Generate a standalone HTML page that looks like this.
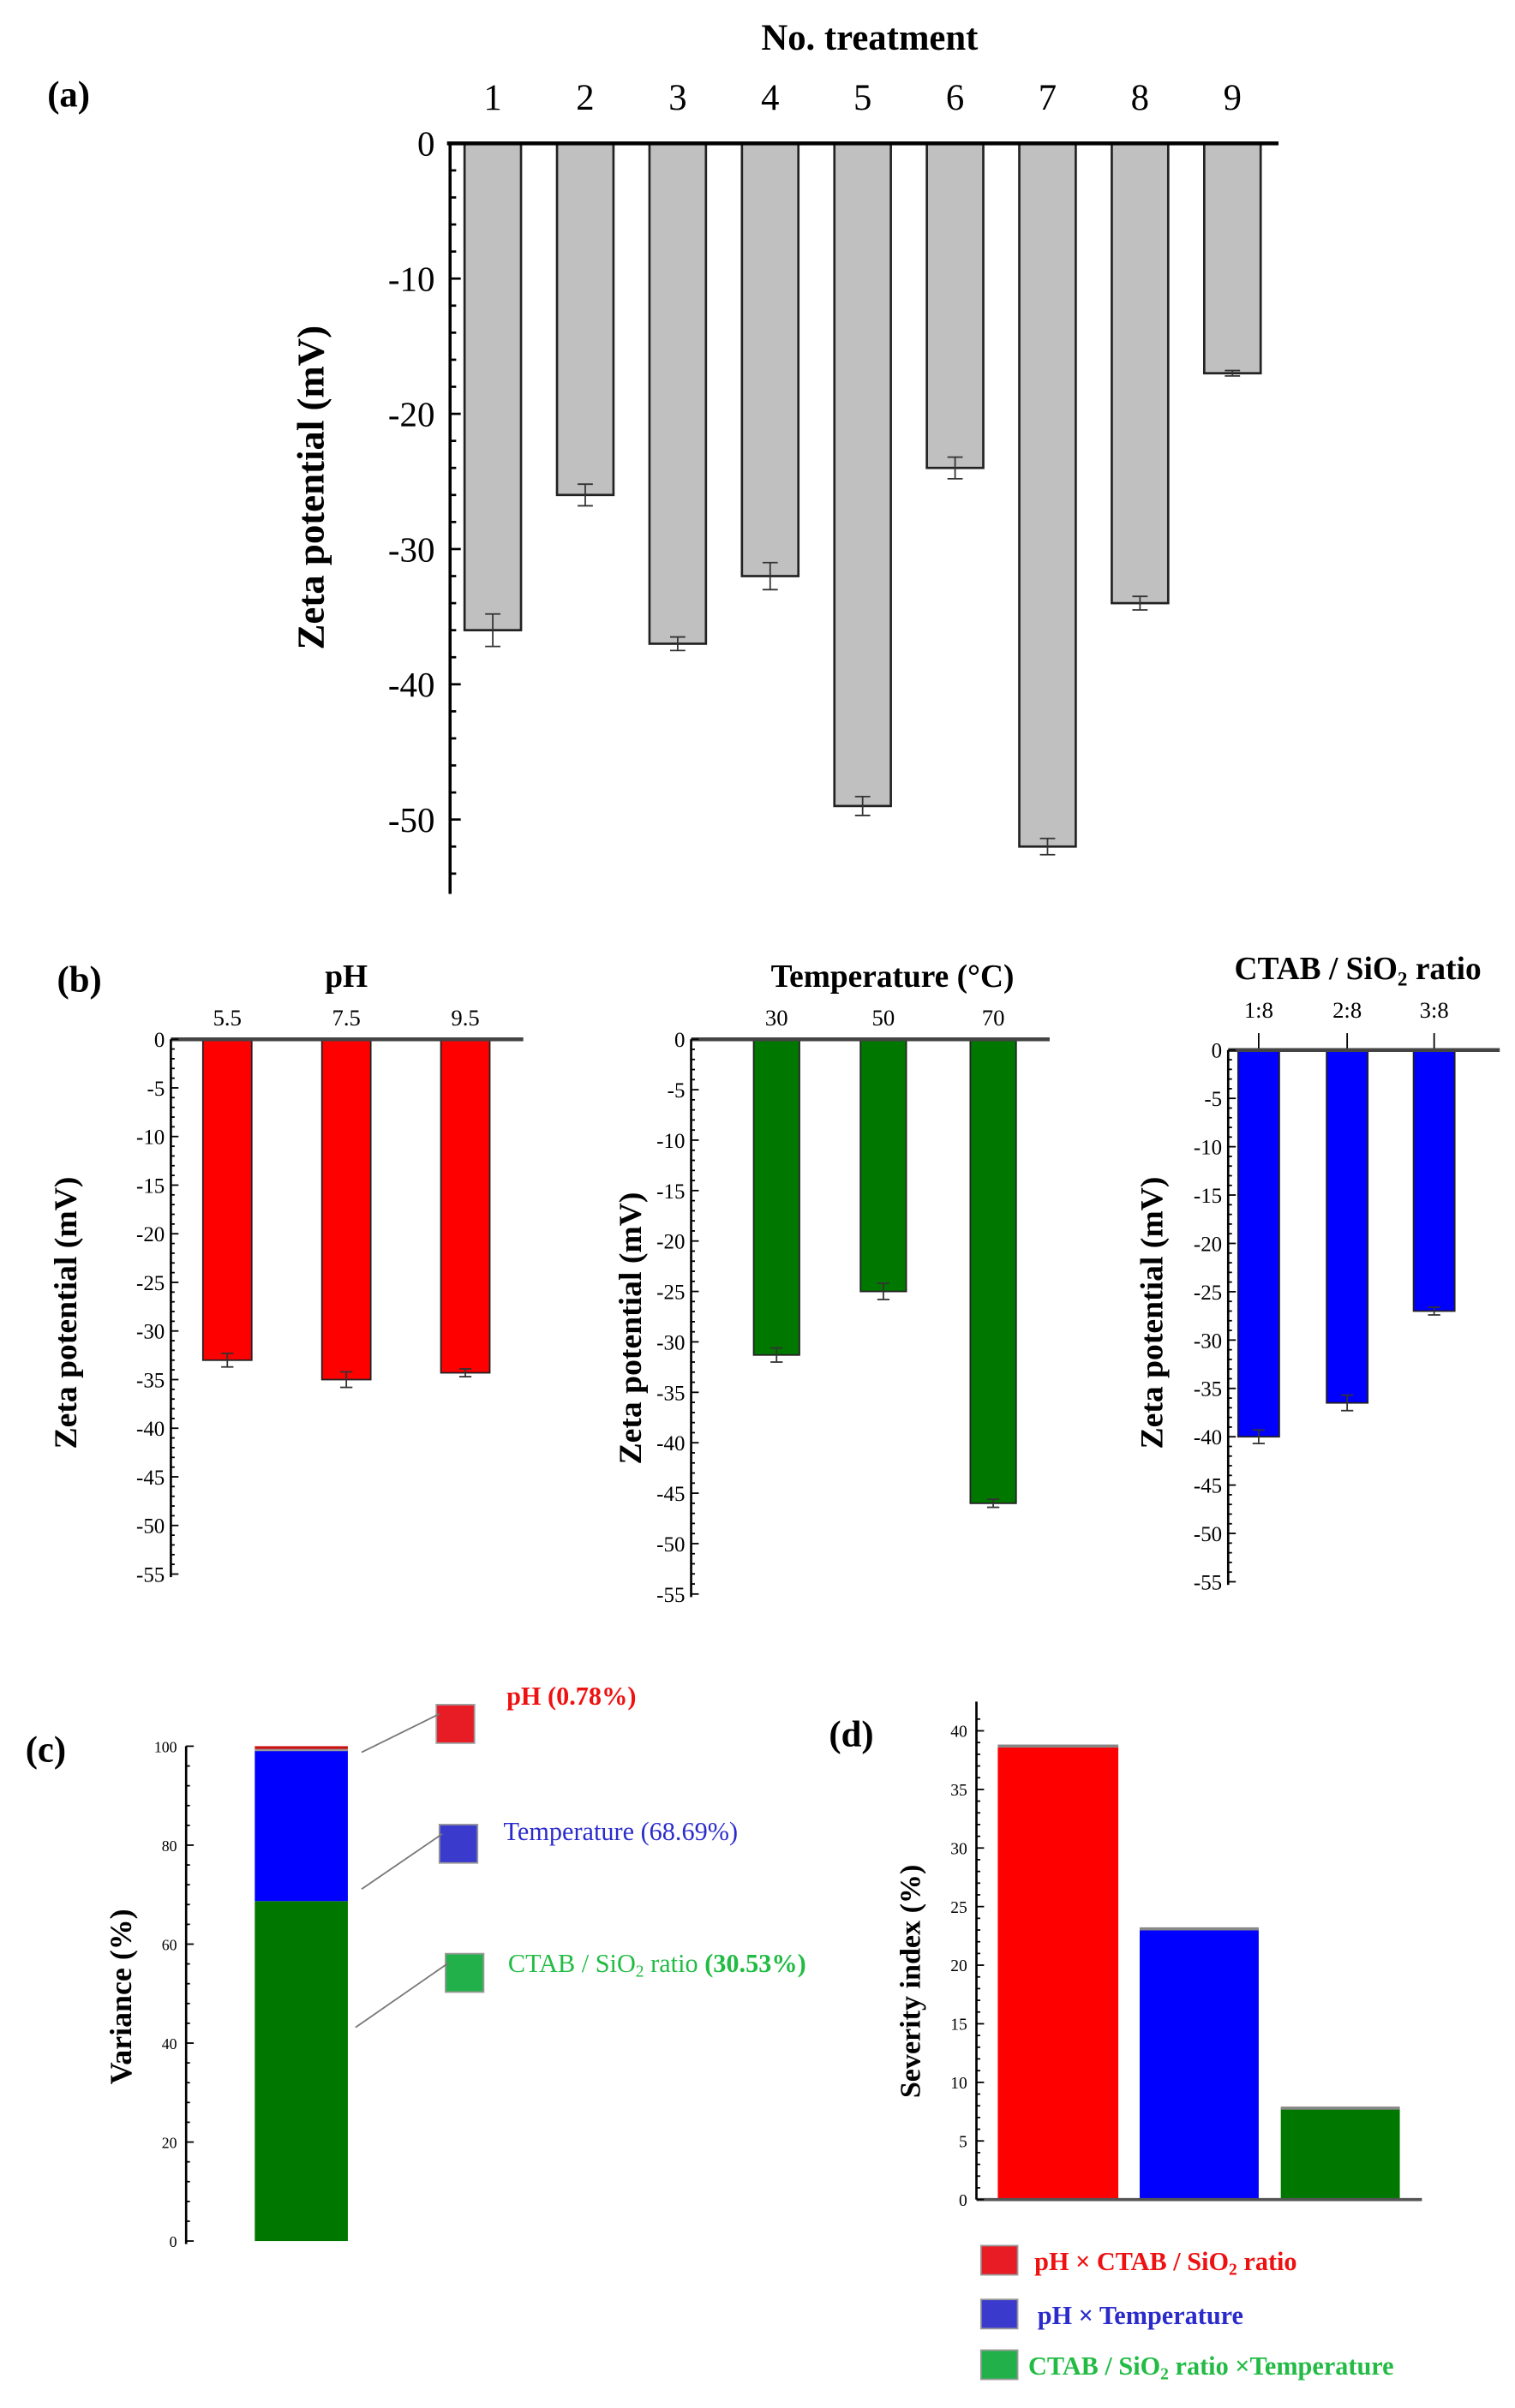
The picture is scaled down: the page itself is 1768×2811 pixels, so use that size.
<!DOCTYPE html>
<html><head><meta charset="utf-8"><style>
html,body{margin:0;padding:0;background:#fff}
svg{display:block;font-family:"Liberation Serif",serif}
</style></head><body>
<svg id="fig" width="1768" height="2811" viewBox="0 0 993 1579" preserveAspectRatio="none" xmlns="http://www.w3.org/2000/svg"><g id="root" transform="translate(0,94) scale(1,1.0077) translate(0,-94)"></g></svg>
<script>
// Panel (a)
const aCats=["1","2","3","4","5","6","7","8","9"];
const aVals=[-36,-26,-37,-32,-49,-24,-52,-34,-17];
const aErr=[1.2,0.8,0.5,1.0,0.7,0.8,0.6,0.5,0.2];
const aTicks=[0,-10,-20,-30,-40,-50];
// Panel (b)
const pHCats=["5.5","7.5","9.5"];
const pHVals=[-33,-35,-34.3];
const tCats=["30","50","70"];
const tVals=[-31.3,-25,-46];
const cCats=["1:8","2:8","3:8"];
const cVals=[-40,-36.5,-27];
const bErr=[0.7,0.8,0.4];
const bTicks=[0,-5,-10,-15,-20,-25,-30,-35,-40,-45,-50,-55];
// Panel (c)
const cStack=[68.69,30.53,0.78];
const cTicks=[0,20,40,60,80,100];
// Panel (d)
const dVals=[38.7,23.1,7.8];
const dTicks=[0,5,10,15,20,25,30,35,40];

const svg=document.getElementById('root');
const NS="http://www.w3.org/2000/svg";
function mk(tag,at,txt){const e=document.createElementNS(NS,tag);for(const k in at)e.setAttribute(k,at[k]);if(txt!==undefined)e.textContent=txt;svg.appendChild(e);return e;}
function line(x1,y1,x2,y2,w,c){return mk('line',{x1,y1,x2,y2,stroke:c||'#000','stroke-width':w||1});}
function text(x,y,s,size,opt){opt=opt||{};const e=mk('text',{x,y,'font-size':size,'text-anchor':opt.anchor||'middle','font-weight':opt.bold?'bold':'normal',fill:opt.fill||'#000'},s);if(opt.rot)e.setAttribute('transform',`rotate(-90 ${x} ${y})`);return e;}

// ---------- (a) ----------
{
const ax=295,y0=94,ppu=8.8,x1=323,dx=60.6,bw=37;
const ya=v=>y0-v*ppu, xa=i=>x1+i*dx;
let t=text(45,70,"(a)",24,{bold:1});
t=text(570,33,"No. treatment",24,{bold:1});
t=text(212,318,"Zeta potential (mV)",25,{bold:1,rot:1});
aVals.forEach((v,i)=>{
 const r=mk('rect',{x:xa(i)-bw/2,y:y0,width:bw,height:ya(v)-y0,fill:'#c0c0c0',stroke:'#222','stroke-width':1.5});
 
 const e1=ya(v-aErr[i]),e2=ya(v+aErr[i]);
 const g=line(xa(i),e1,xa(i),e2,1,'#333');
 line(xa(i)-5,e1,xa(i)+5,e1,1,'#333');line(xa(i)-5,e2,xa(i)+5,e2,1,'#333');
 const l=text(xa(i),72,aCats[i],24);
});
const xl=line(ax-2,y0,838,y0,2.5);
const yl=line(ax,y0,ax,ya(-55.5),2);
for(let v=0;v>=-55;v-=2){line(ax,ya(v),ax+(v%10===0?7:4),ya(v),1.5);}
aTicks.forEach(v=>{const l=text(285,ya(v)+8,String(v),23,{anchor:'end'});});
}

// ---------- (b) ----------
function panelB(cfg){
 const {ax,y0,ybot,xend,cats,vals,xs,bw,color,title,tx,ty,yt,ytY,name,topTicks}=cfg;
 const ppu=(ybot-y0)/55; const ya=v=>y0-v*ppu;
 let t=text(tx,ty,title.main,21,{bold:1});
 if(title.sub){const ts=mk('tspan',{'font-size':13,dy:4},title.sub);t.appendChild(ts);const ts2=mk('tspan',{dy:-4},title.rest);t.appendChild(ts2);}
 t=text(yt,ytY,"Zeta potential (mV)",21,{bold:1,rot:1});
 vals.forEach((v,i)=>{
  const r=mk('rect',{x:xs[i]-bw/2,y:y0,width:bw,height:ya(v)-y0,fill:color,stroke:'#222','stroke-width':1});
  
  const e1=ya(v-bErr[i]),e2=ya(v+bErr[i]);
  const g=line(xs[i],e1,xs[i],e2,1,'#333');
  line(xs[i]-4,e1,xs[i]+4,e1,1,'#333');line(xs[i]-4,e2,xs[i]+4,e2,1,'#333');
  const l=text(xs[i],y0-(topTicks?21:9),cats[i],15);
  if(topTicks)line(xs[i],y0-11,xs[i],y0,1);
 });
 const xl=line(ax,y0,xend,y0,2.5,'#444');
 const yl=line(ax,y0,ax,ybot+2,1.5);
 for(let v=0;v>=-55;v-=1){line(ax,ya(v),ax+(v%5===0?5:2.5),ya(v),1);}
 bTicks.forEach(v=>{const l=text(ax-4,ya(v)+5,String(v),14,{anchor:'end'});});
}
{let t=text(52,646,"(b)",24,{bold:1});}
panelB({ax:112,y0:677,ybot:1025,xend:343,cats:pHCats,vals:pHVals,xs:[149,227,305],bw:32,color:'#ff0000',title:{main:'pH'},tx:227,ty:643,yt:50,ytY:855,name:'ph'});
panelB({ax:453,y0:677,ybot:1038,xend:688,cats:tCats,vals:tVals,xs:[509,579,651],bw:30,color:'#007800',title:{main:'Temperature (°C)'},tx:585,ty:643,yt:420,ytY:865,name:'temperature'});
panelB({ax:805,y0:684,ybot:1030,xend:983,cats:cCats,vals:cVals,xs:[825,883,940],bw:27,color:'#0000ff',title:{main:'CTAB / SiO',sub:'2',rest:' ratio'},tx:890,ty:638,yt:762,ytY:855,name:'ctab',topTicks:true});

// ---------- (c) ----------
{
const ax=122,y0=1459,ppu=(1459-1137)/100; const ya=v=>y0-v*ppu;
let t=text(30,1147,"(c)",24,{bold:1});
t=text(86,1300,"Variance (%)",20,{bold:1,rot:1});
const cols=['#007800','#0000ff','#cc1010'];const names=['green','blue','red'];
let acc=0;
cStack.forEach((v,i)=>{const r=mk('rect',{x:167,y:ya(acc+v),width:61,height:v*ppu,fill:cols[i]});acc+=v;});
line(167,ya(99.22),228,ya(99.22),1.5,'#999');
const yl=line(ax,1137,ax,1461,1.5);
for(let v=0;v<=100;v+=4)line(ax,ya(v),ax+(v%20===0?5:2.5),ya(v),1);
cTicks.forEach(v=>{const l=text(116,ya(v)+4,String(v),10,{anchor:'end'});});
const leg=[[286,1110,'#e81c24','pH (0.78%)',332,1110,'#ee1111',237,1141],[288,1188,'#3a3acc','Temperature (68.69%)',330,1198,'#2b2bcc',237,1230],[292,1272,'#22b04a','CTAB / SiO',333,1284,'#22bb44',233,1320]];
leg.forEach((d,i)=>{
 const r=mk('rect',{x:d[0],y:d[1],width:25,height:25,fill:d[2],stroke:'#999','stroke-width':1});
 const ln=line(d[7],d[8],d[0]+2,d[1]+6,1,'#777');
 const tt=text(d[4],d[5],d[3],17,{anchor:'start',fill:d[6],bold:i===0});
 if(i===2){tt.appendChild(mk('tspan',{'font-size':11,dy:3},'2'));tt.appendChild(mk('tspan',{dy:-3},' ratio '));tt.appendChild(mk('tspan',{'font-weight':'bold'},'(30.53%)'));}
});
}

// ---------- (d) ----------
{
const ax=640,y0=1432,ppu=(1432-1127)/40; const ya=v=>y0-v*ppu;
const xs=[693.5,786,878.5],bws=[79,78,78],cols=['#ff0000','#0000ff','#007800'];
let t=text(558,1137,"(d)",24,{bold:1});
t=text(603,1290,"Severity index (%)",19,{bold:1,rot:1});
dVals.forEach((v,i)=>{const r=mk('rect',{x:xs[i]-bws[i]/2,y:ya(v),width:bws[i],height:v*ppu,fill:cols[i]});line(xs[i]-bws[i]/2,ya(v),xs[i]+bws[i]/2,ya(v),2,'#888');});
const xl=line(ax,y0,932,y0,2,'#555');
const yl=line(ax,1108,ax,y0,1.5);
for(let v=0;v<=41;v+=1)line(ax,ya(v),ax+(v%5===0?5:2.5),ya(v),1);
dTicks.forEach(v=>{const l=text(634,ya(v)+4,String(v),11,{anchor:'end'});});
const leg=[[1462,'#e81c24','#ee1111',1478],[1497,'#3a3acc','#2b2bcc',1513],[1530,'#22b04a','#22bb44',1546]];
leg.forEach((d,i)=>{
 const r=mk('rect',{x:643,y:d[0],width:24,height:19,fill:d[1],stroke:'#999','stroke-width':1});
 const tt=text(678,d[3],'',17,{anchor:'start',fill:d[2],bold:1});
 if(i===0){tt.appendChild(mk('tspan',{},'pH × CTAB / SiO'));tt.appendChild(mk('tspan',{'font-size':11,dy:3},'2'));tt.appendChild(mk('tspan',{dy:-3},' ratio'));}
 if(i===1){tt.setAttribute('x',680);tt.appendChild(mk('tspan',{},'pH × Temperature'));}
 if(i===2){tt.setAttribute('x',674);tt.appendChild(mk('tspan',{},'CTAB / SiO'));tt.appendChild(mk('tspan',{'font-size':11,dy:3},'2'));tt.appendChild(mk('tspan',{dy:-3},' ratio  ×Temperature'));}
});
}
</script>
</body></html>
